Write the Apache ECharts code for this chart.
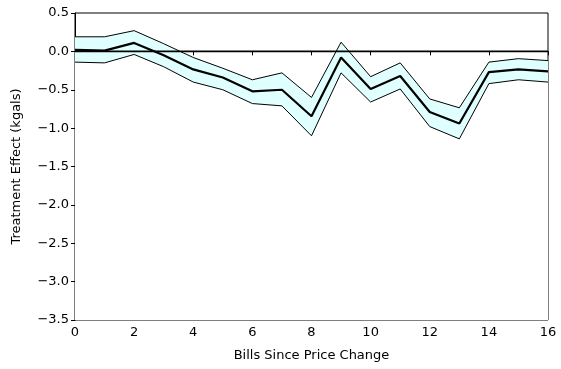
<!DOCTYPE html>
<html><head><meta charset="utf-8">
<script src="https://cdn.jsdelivr.net/npm/echarts@6/dist/echarts.min.js"></script>
<style>html,body{margin:0;padding:0;background:#fff}#c{width:561px;height:369px}</style>
</head><body><div id="c"></div>
<script>
const bills = [0,1,2,3,4,5,6,7,8,9,10,11,12,13,14,15,16];
const estimate = [0.02,0.01,0.11,-0.05,-0.235,-0.34,-0.52,-0.50,-0.845,-0.08,-0.49,-0.32,-0.79,-0.94,-0.27,-0.235,-0.26];
const upper = [0.19,0.19,0.27,0.10,-0.08,-0.22,-0.37,-0.28,-0.60,0.12,-0.33,-0.15,-0.62,-0.735,-0.14,-0.095,-0.12];
const lower = [-0.14,-0.15,-0.04,-0.20,-0.40,-0.50,-0.68,-0.71,-1.10,-0.28,-0.66,-0.49,-0.98,-1.14,-0.42,-0.37,-0.40];
const yTicks = [-3.5,-3.0,-2.5,-2.0,-1.5,-1.0,-0.5,0.0,0.5];

const pair = arr => bills.map((b,i)=>[b,arr[i]]);
const fmt = v => v.toFixed(1).replace('-', '\u2212');
const font = 'DejaVu Sans';

const chart = echarts.init(document.getElementById('c'), null, {renderer:'canvas'});
chart.setOption({
  animation:false,
  grid:{left:75,right:13,top:13,bottom:49,show:true,borderColor:'#000',borderWidth:1,backgroundColor:'transparent'},
  xAxis:{type:'value',min:0,max:16,interval:2,
    name:'Bills Since Price Change',nameLocation:'middle',nameGap:29,
    nameTextStyle:{fontFamily:font,fontSize:13,color:'#000'},
    axisLine:{show:true,lineStyle:{color:'#000',width:1}},
    axisTick:{show:true,inside:false,length:4,lineStyle:{color:'#000'}},
    axisLabel:{fontFamily:font,fontSize:13,color:'#000',margin:6},
    splitLine:{show:false}},
  yAxis:{type:'value',min:-3.5,max:0.5,interval:0.5,
    name:'Treatment Effect (kgals)',nameLocation:'middle',nameGap:52,nameRotate:90,
    nameTextStyle:{fontFamily:font,fontSize:13,color:'#000'},
    axisLine:{show:true,lineStyle:{color:'#000',width:1}},
    axisTick:{show:true,inside:false,length:4,lineStyle:{color:'#000'}},
    axisLabel:{fontFamily:font,fontSize:13,color:'#000',margin:6,formatter:fmt},
    splitLine:{show:false}},
  series:[
    {type:'line',data:pair(upper),symbol:'none',lineStyle:{opacity:0},areaStyle:{color:'#e0ffff',opacity:1,origin:'start'},silent:true,z:1},
    {type:'line',data:pair(lower),symbol:'none',lineStyle:{opacity:0},areaStyle:{color:'#ffffff',opacity:1,origin:'start'},silent:true,z:1},
    {type:'line',data:pair(upper),symbol:'none',lineStyle:{color:'#000',width:1},z:3},
    {type:'line',data:pair(lower),symbol:'none',lineStyle:{color:'#000',width:1},z:3},
    {type:'line',data:bills.map(b=>[b,0]),symbol:'none',lineStyle:{color:'#000',width:1.6},z:3},
    {type:'line',data:pair(estimate),symbol:'none',lineStyle:{color:'#000',width:2.2},z:4}
  ]
});
</script></body></html>
